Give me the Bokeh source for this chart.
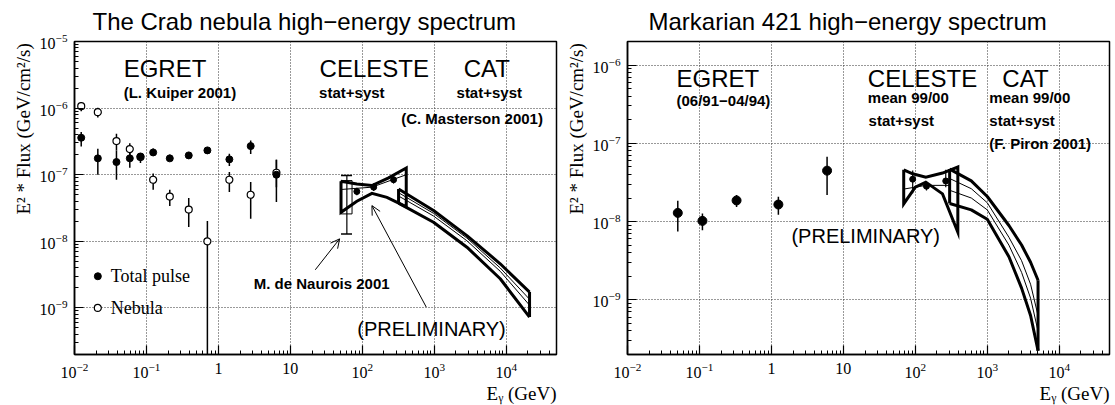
from bokeh.plotting import figure
from bokeh.models import FixedTicker, Label, Arrow, OpenHead, Range1d, Title
from bokeh.layouts import row
from bokeh.embed import file_html
from bokeh.resources import INLINE

SANS = "Liberation Sans"
SERIF = "Liberation Serif"

# ---------------- axes / ticks ----------------
x_tick_values = [1e-2, 1e-1, 1, 10, 1e2, 1e3, 1e4]
x_tick_plain = {1: "1", 10: "10"}
crab_y_tick_values = [1e-9, 1e-8, 1e-7, 1e-6, 1e-5]
mrk_y_tick_values = [1e-9, 1e-8, 1e-7, 1e-6]
x_range_limits = [1e-2, 5e4]
crab_y_limits = [2.0e-10, 1e-5]
mrk_y_limits = [2.0e-10, 2.0e-6]

# ---------------- Crab: EGRET (L. Kuiper 2001) ----------------
crab_egret_e = [0.0124, 0.0211, 0.0383, 0.0587, 0.0826, 0.124, 0.211, 0.387, 0.703, 1.42, 2.81, 6.4]
crab_pulse_flux = [3.59e-7, 1.76e-7, 1.55e-7, 1.76e-7, 1.88e-7, 2.16e-7, 1.76e-7, 1.95e-7, 2.32e-7, 1.70e-7, 2.69e-7, 1.0e-7]
crab_pulse_lo = [2.66e-7, 1.0e-7, 8.4e-8, 1.27e-7, 1.74e-7, 2.0e-7, 1.62e-7, 1.78e-7, 2.04e-7, 1.35e-7, 2.04e-7, 3.9e-8]
crab_pulse_hi = [4.37e-7, 2.45e-7, 2.32e-7, 2.19e-7, 2.07e-7, 2.48e-7, 2.0e-7, 2.19e-7, 2.6e-7, 2.07e-7, 3.27e-7, 1.68e-7]
crab_nebula_flux = [1.07e-6, 8.7e-7, 3.2e-7, 2.43e-7, 1.84e-7, 8.4e-8, 4.7e-8, 3.0e-8, 1.0e-8, 8.4e-8, 5.0e-8, 1.07e-7]
crab_nebula_lo = [9.0e-7, 7.2e-7, 2.32e-7, 1.88e-7, 1.5e-7, 5.96e-8, 3.39e-8, 1.64e-8, 1e-10, 5.5e-8, 2.19e-8, 6.5e-8]
crab_nebula_hi = [1.23e-6, 1.01e-6, 4.12e-7, 2.98e-7, 2.07e-7, 1.04e-7, 5.96e-8, 4.47e-8, 2.02e-8, 1.1e-7, 7.76e-8, 1.68e-7]

# ---------------- Crab: CELESTE ----------------
crab_celeste_e = [84, 144, 272]
crab_celeste_flux = [5.6e-8, 6.5e-8, 8.4e-8]
crab_celeste_lo = [4.9e-8, 5.7e-8, 7.4e-8]
crab_celeste_hi = [6.4e-8, 7.4e-8, 9.5e-8]
crab_bow_upper_e = [50.6, 84, 136, 232, 408]
crab_bow_upper_f = [7.96e-8, 7.28e-8, 6.87e-8, 8.95e-8, 1.26e-7]
crab_bow_lower_e = [50.6, 84, 136, 220, 337, 408]
crab_bow_lower_f = [2.73e-8, 3.99e-8, 5.26e-8, 4.58e-8, 3.65e-8, 3.3e-8]
crab_bow_inner_e = [50.6, 136, 408]
crab_bow_inner_f = [6.0e-8, 6.5e-8, 1.0e-7]
# M. de Naurois 2001 point (box + error bar)
naurois_box_e = [50.6, 72]
naurois_box_f = [2.58e-8, 8.17e-8]
naurois_center_e = [61]
naurois_err_f = [1.29e-8, 9.7e-8]

# ---------------- Crab: CAT (C. Masterson 2001) ----------------
crab_cat_e = [319, 977, 2844, 8260, 21100]
crab_cat_upper = [6.12e-8, 2.90e-8, 1.22e-8, 4.60e-9, 1.73e-9]
crab_cat_thin1 = [5.37e-8, 2.63e-8, 1.12e-8, 3.98e-9, 1.35e-9]
crab_cat_thin2 = [4.79e-8, 2.40e-8, 1.02e-8, 3.55e-9, 1.10e-9]
crab_cat_lower = [3.75e-8, 1.93e-8, 8.17e-9, 2.74e-9, 7.28e-10]

# ---------------- Mrk 421: EGRET ----------------
mrk_egret_e = [0.050, 0.110, 0.328, 1.25, 5.94]
mrk_egret_flux = [1.29e-8, 1.02e-8, 1.86e-8, 1.65e-8, 4.47e-8]
mrk_egret_lo = [7.45e-9, 7.74e-9, 1.54e-8, 1.22e-8, 2.18e-8]
mrk_egret_hi = [1.84e-8, 1.27e-8, 2.18e-8, 2.07e-8, 6.75e-8]

# ---------------- Mrk 421: CELESTE ----------------
mrk_celeste_e = [92, 143, 265]
mrk_celeste_flux = [3.48e-8, 2.83e-8, 3.30e-8]
mrk_celeste_lo = [2.3e-8, 2.5e-8, 2.75e-8]
mrk_celeste_hi = [4.5e-8, 3.2e-8, 4.6e-8]
mrk_bow_upper_e = [69, 92, 140, 239, 390]
mrk_bow_upper_f = [4.59e-8, 4.08e-8, 3.70e-8, 4.17e-8, 4.98e-8]
mrk_bow_lower_e = [69, 100, 140, 239, 390]
mrk_bow_lower_f = [1.68e-8, 2.75e-8, 3.19e-8, 2.26e-8, 7.3e-9]
mrk_bow_inner_e = [69, 140, 300]
mrk_bow_inner_f = [2.6e-8, 2.9e-8, 2.9e-8]

# ---------------- Mrk 421: CAT (F. Piron 2001) ----------------
mrk_cat_e = [300, 600, 1000, 2000, 3000, 4000, 5080]
mrk_cat_upper = [4.68e-8, 3.31e-8, 2.09e-8, 8.91e-9, 5.01e-9, 3.02e-9, 1.78e-9]
mrk_cat_thin1 = [3.55e-8, 2.63e-8, 1.74e-8, 6.3e-9, 3.16e-9, 1.58e-9, 6.3e-10]
mrk_cat_thin2 = [2.51e-8, 2.0e-8, 1.41e-8, 5.0e-9, 2.24e-9, 1.05e-9, 3.98e-10]
mrk_cat_lower = [1.70e-8, 1.41e-8, 1.07e-8, 3.55e-9, 1.41e-9, 6.3e-10, 2.24e-10]

FRAME_W, FRAME_H = 482, 313
minor_ticks = [k * 10.0 ** n for n in range(-11, 6) for k in range(2, 10)]


def label(p, x, y, text, size, font=SANS, style="normal", align="left", baseline="middle"):
    p.add_layout(Label(x=x, y=y, text=text, text_font=font,
                       text_font_size=f"{size}px", text_font_style=style,
                       text_align=align, text_baseline=baseline, text_color="black"))


def make_panel(border_left, border_right, ylims, yticks, title, title_offset):
    p = figure(frame_width=FRAME_W, frame_height=FRAME_H,
               x_axis_type="log", y_axis_type="log",
               x_range=Range1d(*x_range_limits), y_range=Range1d(*ylims),
               min_border_left=border_left, min_border_right=border_right,
               min_border_top=41, min_border_bottom=51,
               output_backend="svg", toolbar_location=None)
    p.background_fill_color = "white"
    p.border_fill_color = "white"
    p.outline_line_color = "black"
    p.outline_line_width = 1.5
    p.xaxis.ticker = FixedTicker(ticks=x_tick_values, minor_ticks=minor_ticks)
    p.yaxis.ticker = FixedTicker(ticks=yticks, minor_ticks=minor_ticks)
    p.xaxis.major_label_overrides = x_tick_plain
    for ax in (p.xaxis[0], p.yaxis[0]):
        ax.major_tick_in = 9
        ax.major_tick_out = 0
        ax.minor_tick_in = 4
        ax.minor_tick_out = 0
        ax.major_tick_line_width = 1.2
        ax.minor_tick_line_width = 1
        ax.axis_line_width = 1.5
        ax.major_label_text_font = SERIF
        ax.major_label_text_font_size = "16px"
        ax.major_label_text_color = "black"
    p.xaxis.major_label_standoff = 8
    p.yaxis.major_label_standoff = 7
    for g in (p.xgrid[0], p.ygrid[0]):
        g.grid_line_color = "#333333"
        g.grid_line_dash = "1 2"
        g.grid_line_width = 1
    # chart title
    p.title.text = title
    p.title.align = "left"
    p.title.vertical_align = "top"
    p.title.offset = title_offset
    p.title.text_font = SANS
    p.title.text_font_size = "24px"
    p.title.text_font_style = "normal"
    p.title.text_color = "black"
    p.title.standoff = 10
    # axis titles
    p.add_layout(Title(text="E² * Flux (GeV/cm²/s)", align="left", offset=140,
                       text_font=SERIF, text_font_size="19px", text_font_style="normal",
                       text_color="black", standoff=6), "left")
    p.add_layout(Title(text="Eᵧ (GeV)", align="right", text_font=SERIF,
                       text_font_size="19px", text_font_style="normal",
                       text_color="black", standoff=0), "below")
    return p


def errbars(p, x, lo, hi, width=1.5):
    p.segment(x0=x, y0=lo, x1=x, y1=hi, line_color="black", line_width=width)


def outline(p, ue, uf, le, lf, width=3):
    xs = list(ue) + list(le)[::-1] + [ue[0]]
    ys = list(uf) + list(lf)[::-1] + [uf[0]]
    p.line(xs, ys, line_color="black", line_width=width, line_join="miter")


# =================== Crab panel ===================
p1 = make_panel(74, 4, crab_y_limits, crab_y_tick_values,
                "The Crab nebula high−energy spectrum", 18)

errbars(p1, crab_egret_e, crab_nebula_lo, crab_nebula_hi)
errbars(p1, crab_egret_e, crab_pulse_lo, crab_pulse_hi)
p1.scatter(crab_egret_e, crab_nebula_flux, marker="circle", size=7,
           fill_color="white", line_color="black", line_width=1.2)
p1.scatter(crab_egret_e, crab_pulse_flux, marker="circle", size=7,
           fill_color="black", line_color="black")

# legend
p1.scatter([0.0211], [2.99e-9], marker="circle", size=7, fill_color="black", line_color="black")
p1.scatter([0.0211], [1.0e-9], marker="circle", size=7, fill_color="white", line_color="black", line_width=1.2)
label(p1, 0.032, 2.99e-9, "Total pulse", 18, SERIF)
label(p1, 0.032, 1.0e-9, "Nebula", 18, SERIF)

# CELESTE bowtie + Naurois point
p1.quad(left=naurois_box_e[0], right=naurois_box_e[1], bottom=naurois_box_f[0],
        top=naurois_box_f[1], fill_color=None, line_color="black", line_width=1)
errbars(p1, naurois_center_e, [naurois_err_f[0]], [naurois_err_f[1]], width=1.2)
p1.segment(x0=[naurois_box_e[0]] * 2, x1=[naurois_box_e[1]] * 2, y0=naurois_err_f,
           y1=naurois_err_f, line_color="black", line_width=1.5)
outline(p1, crab_bow_upper_e, crab_bow_upper_f, crab_bow_lower_e, crab_bow_lower_f)
p1.line(crab_bow_inner_e, crab_bow_inner_f, line_color="black", line_width=1)
errbars(p1, crab_celeste_e, crab_celeste_lo, crab_celeste_hi, width=1.2)
p1.scatter(crab_celeste_e, crab_celeste_flux, marker="circle", size=6, fill_color="black", line_color="black")

# CAT band
for ys, w in ((crab_cat_upper, 3), (crab_cat_thin1, 1), (crab_cat_thin2, 1), (crab_cat_lower, 3)):
    p1.line(crab_cat_e, ys, line_color="black", line_width=w)
p1.segment(x0=[crab_cat_e[0], crab_cat_e[-1]], x1=[crab_cat_e[0], crab_cat_e[-1]],
           y0=[crab_cat_lower[0], crab_cat_lower[-1]], y1=[crab_cat_upper[0], crab_cat_upper[-1]],
           line_color="black", line_width=3)

# texts
label(p1, 0.0482, 3.9e-6, "EGRET", 24)
label(p1, 0.0482, 1.74e-6, "(L. Kuiper 2001)", 15, style="bold")
label(p1, 25.5, 3.9e-6, "CELESTE", 24)
label(p1, 25.1, 1.74e-6, "stat+syst", 15, style="bold")
label(p1, 2570, 3.9e-6, "CAT", 24)
label(p1, 2040, 1.74e-6, "stat+syst", 15, style="bold")
label(p1, 347, 6.9e-7, "(C. Masterson 2001)", 15, style="bold")
label(p1, 3.1, 2.34e-9, "M. de Naurois 2001", 15, style="bold")
label(p1, 85, 4.9e-10, "(PRELIMINARY)", 20)
p1.add_layout(Arrow(end=OpenHead(size=9, line_width=1), x_start=22.2, y_start=3.74e-9,
                    x_end=48.4, y_end=1.09e-8, line_width=1))
p1.add_layout(Arrow(end=OpenHead(size=9, line_width=1), x_start=774, y_start=1.03e-9,
                    x_end=136, y_end=3.44e-8, line_width=1))

# =================== Mrk 421 panel ===================
p2 = make_panel(64, 9, mrk_y_limits, mrk_y_tick_values,
                "Markarian 421 high−energy spectrum", 21)

errbars(p2, mrk_egret_e, mrk_egret_lo, mrk_egret_hi)
p2.scatter(mrk_egret_e, mrk_egret_flux, marker="circle", size=9, fill_color="black", line_color="black")

outline(p2, mrk_bow_upper_e, mrk_bow_upper_f, mrk_bow_lower_e, mrk_bow_lower_f)
p2.line(mrk_bow_inner_e, mrk_bow_inner_f, line_color="black", line_width=1)
errbars(p2, mrk_celeste_e, mrk_celeste_lo, mrk_celeste_hi, width=1.2)
p2.scatter(mrk_celeste_e, mrk_celeste_flux, marker="circle", size=6, fill_color="black", line_color="black")

for ys, w in ((mrk_cat_upper, 3), (mrk_cat_thin1, 1), (mrk_cat_thin2, 1), (mrk_cat_lower, 3)):
    p2.line(mrk_cat_e, ys, line_color="black", line_width=w)
p2.segment(x0=[mrk_cat_e[0], mrk_cat_e[-1]], x1=[mrk_cat_e[0], mrk_cat_e[-1]],
           y0=[mrk_cat_lower[0], mrk_cat_lower[-1]], y1=[mrk_cat_upper[0], mrk_cat_upper[-1]],
           line_color="black", line_width=3)

label(p2, 0.048, 6.76e-7, "EGRET", 24)
label(p2, 0.048, 3.55e-7, "(06/91−04/94)", 15, style="bold")
label(p2, 21.9, 6.76e-7, "CELESTE", 24)
label(p2, 1620, 6.76e-7, "CAT", 24)
label(p2, 21.9, 3.9e-7, "mean 99/00", 15, style="bold")
label(p2, 1070, 3.9e-7, "mean 99/00", 15, style="bold")
label(p2, 22.4, 1.95e-7, "stat+syst", 15, style="bold")
label(p2, 1070, 1.95e-7, "stat+syst", 15, style="bold")
label(p2, 1070, 1.0e-7, "(F. Piron 2001)", 15, style="bold")
label(p2, 1.9, 6.6e-9, "(PRELIMINARY)", 20)

layout = row(p1, p2)
open("out.html", "w").write(file_html(layout, INLINE))
